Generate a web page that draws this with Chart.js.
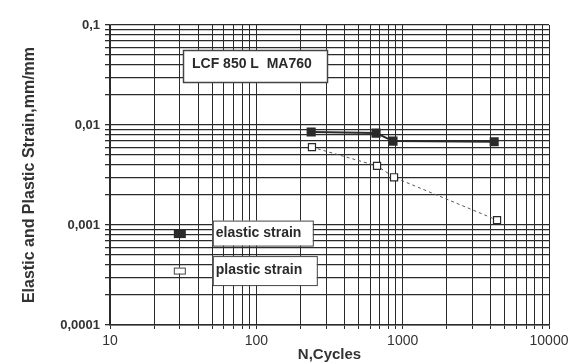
<!DOCTYPE html>
<html>
<head>
<meta charset="utf-8">
<script src="https://cdn.jsdelivr.net/npm/chart.js@4.4.1/dist/chart.umd.min.js"></script>
<style>
  html, body { margin: 0; padding: 0; background: #fff; }
  #wrap { width: 573px; height: 364px; }
</style>
</head>
<body>
<div id="wrap"><canvas id="chart"></canvas></div>
<script>
// values
const elasticCycles = [237, 658, 859, 4220];
const elasticStrain = [0.0085, 0.0083, 0.0069, 0.0068];
const plasticCycles = [240, 668, 873, 4415];
const plasticStrain = [0.0060, 0.0039, 0.0030, 0.00112];

const xDecades = [10, 100, 1000, 10000];
const xLabels = ['10', '100', '1000', '10000'];
const yDecades = [0.0001, 0.001, 0.01, 0.1];
const yLabels = ['0,0001', '0,001', '0,01', '0,1'];

const seriesNames = ['elastic strain', 'plastic strain'];
const chartTitle = 'LCF 850 L  MA760';

// where the hand-drawn legend sits, in data units
const legendCycles = 30;
const legendStrain = [0.00083, 0.00035];

const INK = '#2a2a2a';
const FONT = '"Liberation Sans", Arial, sans-serif';

// gridlines at 1..9 of every decade
function decadeTicks(decades) {
  const out = [];
  for (let i = 0; i < decades.length - 1; i++) {
    for (let m = 1; m < 10; m++) out.push(decades[i] * m);
  }
  out.push(decades[decades.length - 1]);
  return out.map(v => ({ value: v }));
}

function labelFor(decades, labels) {
  return (value) => {
    const i = decades.findIndex(d => Math.abs(d - value) / d < 1e-6);
    return i >= 0 ? labels[i] : '';
  };
}

const boxes = {
  id: 'boxes',
  afterDatasetsDraw(chart) {
    const { ctx, chartArea, scales } = chart;
    ctx.save();
    ctx.strokeStyle = '#444';
    ctx.textBaseline = 'middle';

    // title box
    const tx = chartArea.left + 73, ty = chartArea.top + 25;
    ctx.fillStyle = '#fff';
    ctx.fillRect(tx, ty, 144, 32);
    ctx.lineWidth = 1.5;
    ctx.strokeRect(tx + 0.5, ty + 0.5, 144, 32);
    ctx.fillStyle = INK;
    ctx.font = 'bold 14px ' + FONT;
    ctx.fillText(chartTitle, tx + 9, ty + 14);

    // legend: marker plus boxed label
    ctx.lineWidth = 1;
    const mx = scales.x.getPixelForValue(legendCycles);
    legendStrain.forEach((s, i) => {
      const my = scales.y.getPixelForValue(s);
      if (i === 0) {
        ctx.fillStyle = INK;
        ctx.fillRect(mx - 6, my - 4, 12, 9);
      } else {
        ctx.fillStyle = '#fff';
        ctx.fillRect(mx - 6, my - 3, 12, 6);
        ctx.strokeRect(mx - 5.5, my - 2.5, 11, 6);
      }
      const bx = mx + 33, bh = i === 0 ? 25 : 29, bw = i === 0 ? 100 : 104;
      const by = my - bh / 2;
      ctx.fillStyle = '#fff';
      ctx.fillRect(bx, by, bw, bh);
      ctx.strokeRect(bx + 0.5, by + 0.5, bw, bh);
      ctx.fillStyle = INK;
      ctx.font = 'bold 14px ' + FONT;
      ctx.fillText(seriesNames[i], bx + 3, my);
    });
    ctx.restore();
  }
};

new Chart(document.getElementById('chart'), {
  type: 'scatter',
  data: {
    datasets: [
      {
        label: seriesNames[0],
        data: elasticCycles.map((c, i) => ({ x: c, y: elasticStrain[i] })),
        showLine: true,
        borderColor: INK,
        borderWidth: 2,
        pointStyle: 'rect',
        pointRadius: 5,
        backgroundColor: INK,
        pointBorderColor: INK
      },
      {
        label: seriesNames[1],
        data: plasticCycles.map((c, i) => ({ x: c, y: plasticStrain[i] })),
        showLine: true,
        borderColor: '#555',
        borderWidth: 1,
        borderDash: [3, 3],
        pointStyle: 'rect',
        pointRadius: 5,
        pointBackgroundColor: '#fff',
        pointBorderColor: INK,
        pointBorderWidth: 1.2
      }
    ]
  },
  options: {
    responsive: true,
    maintainAspectRatio: false,
    animation: false,
    layout: { padding: { top: 25, right: 24, left: 0, bottom: 0 } },
    plugins: {
      legend: { display: false },
      tooltip: { enabled: false }
    },
    scales: {
      x: {
        type: 'logarithmic',
        min: 10,
        max: 10000,
        afterBuildTicks: (s) => { s.ticks = decadeTicks(xDecades); },
        afterFit: (s) => { s.height = 39; },
        grid: { color: INK, lineWidth: 1, tickLength: 4 },
        border: { color: INK, width: 1.5 },
        ticks: {
          autoSkip: false,
          maxRotation: 0,
          color: '#333',
          padding: 4,
          font: { family: FONT, size: 14 },
          callback: labelFor(xDecades, xLabels)
        },
        title: {
          display: true,
          text: 'N,Cycles',
          color: '#333',
          padding: { top: 0, bottom: 0 },
          font: { family: FONT, size: 15, weight: 'bold' }
        }
      },
      y: {
        type: 'logarithmic',
        min: 0.0001,
        max: 0.1,
        afterBuildTicks: (s) => { s.ticks = decadeTicks(yDecades); },
        afterFit: (s) => { s.width = 110; },
        grid: { color: INK, lineWidth: 1.3, tickLength: 5 },
        border: { color: INK, width: 1.5 },
        ticks: {
          autoSkip: false,
          color: '#333',
          padding: 5,
          font: { family: FONT, size: 13, weight: 'bold' },
          callback: labelFor(yDecades, yLabels)
        },
        title: {
          display: true,
          text: 'Elastic and Plastic Strain,mm/mm',
          color: '#333',
          padding: { top: 20, bottom: 0 },
          font: { family: FONT, size: 16, weight: 'bold' }
        }
      }
    }
  },
  plugins: [boxes]
});
</script>
</body>
</html>
